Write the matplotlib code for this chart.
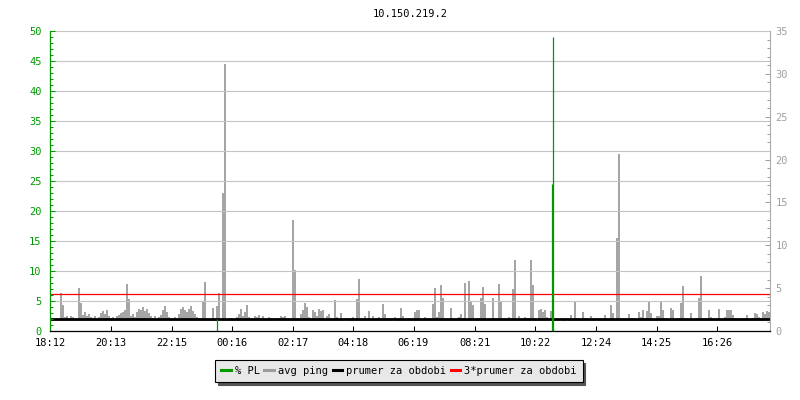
import numpy as np
import matplotlib
matplotlib.use("Agg")
import matplotlib.pyplot as plt
from matplotlib.lines import Line2D
from matplotlib.ticker import MultipleLocator

plt.rcParams['font.family'] = ['DejaVu Sans Mono']

title = "10.150.219.2"
start = "18:12"
step_min = 4  # one ping sample every 4 minutes

# avg ping [ms], 360 samples from 18:12
avg_ping = [
    1.3, 1.4, 1.2, 1.5, 1.3, 4.4, 3.0, 1.6, 1.7, 1.5, 1.8, 1.6, 1.4, 1.3, 5.0, 3.3, 1.9, 2.2, 1.7, 2.0,
    1.6, 1.5, 1.7, 1.4, 1.6, 2.1, 2.3, 2.0, 2.4, 1.8, 1.5, 1.6, 1.4, 1.7, 1.9, 2.1, 2.2, 2.4, 5.5, 3.7,
    1.8, 2.0, 1.6, 2.2, 2.6, 2.4, 2.8, 2.3, 2.6, 2.1, 1.7, 1.5, 1.8, 1.4, 1.6, 1.9, 2.4, 2.9, 2.2, 1.6,
    1.5, 1.4, 1.6, 1.3, 2.0, 2.6, 2.8, 2.4, 2.2, 2.6, 2.9, 2.3, 2.0, 1.6, 1.5, 1.4, 3.5, 5.7, 1.4, 1.3,
    1.3, 2.7, 1.5, 2.9, 4.4, 1.2, 16.1, 31.1, 1.4, 1.3, 1.5, 1.4, 1.3, 1.6, 2.0, 2.6, 1.8, 2.2, 3.0, 1.6,
    1.4, 1.3, 1.8, 1.6, 1.9, 1.5, 1.7, 1.4, 1.3, 1.6, 1.5, 1.3, 1.4, 1.2, 1.5, 1.7, 1.6, 1.8, 1.4, 1.3,
    1.3, 13.0, 7.1, 1.5, 1.4, 2.0, 2.4, 3.3, 2.8, 1.6, 1.4, 2.5, 2.2, 1.7, 2.6, 2.3, 2.4, 1.5, 1.8, 2.0,
    1.5, 1.4, 3.6, 1.6, 1.3, 2.1, 1.4, 1.2, 1.5, 1.3, 1.4, 1.6, 1.3, 3.7, 6.1, 1.5, 1.3, 1.8, 1.4, 2.3,
    1.4, 1.7, 1.3, 1.5, 1.6, 1.4, 3.2, 2.0, 1.3, 1.5, 1.4, 1.2, 1.6, 1.3, 1.5, 2.7, 1.8, 1.4, 1.3, 1.5,
    1.3, 1.5, 2.2, 2.5, 2.4, 1.4, 1.3, 1.6, 1.5, 1.4, 1.3, 3.2, 5.0, 1.6, 2.2, 5.4, 3.9, 1.5, 1.3, 1.4,
    2.7, 1.5, 1.4, 1.3, 1.6, 2.0, 1.5, 5.6, 1.4, 5.8, 3.4, 3.0, 1.4, 1.3, 1.5, 3.9, 5.1, 3.1, 1.4, 1.3,
    1.4, 3.9, 1.5, 1.3, 5.5, 3.4, 1.4, 1.5, 1.3, 1.6, 1.4, 4.9, 8.3, 1.5, 1.8, 1.3, 1.4, 1.6, 1.3, 1.5,
    8.3, 5.4, 1.5, 1.4, 2.4, 2.6, 2.2, 2.5, 1.6, 1.3, 2.3, 2.5, 1.3, 1.2, 1.3, 1.2, 1.4, 1.3, 1.2, 1.3,
    1.9, 1.4, 3.4, 1.5, 1.3, 1.4, 2.2, 1.5, 1.3, 1.2, 1.7, 1.3, 1.4, 1.2, 1.3, 1.5, 1.3, 1.9, 1.4, 1.3,
    3.0, 2.1, 1.4, 10.9, 20.7, 1.5, 1.3, 1.4, 1.3, 2.0, 1.4, 1.5, 1.3, 1.4, 2.2, 1.6, 2.5, 1.5, 2.3, 3.5,
    2.1, 1.4, 1.3, 1.8, 1.7, 3.5, 2.4, 1.5, 1.3, 1.4, 2.7, 2.5, 1.4, 1.3, 1.5, 3.3, 5.2, 1.5, 1.3, 1.4,
    2.1, 1.4, 1.3, 1.5, 3.9, 6.4, 1.4, 1.3, 1.5, 2.5, 1.6, 1.4, 1.3, 1.5, 2.6, 1.4, 1.3, 1.6, 2.5, 2.4,
    2.5, 1.9, 1.5, 1.4, 1.3, 1.4, 1.3, 1.5, 1.9, 1.3, 1.4, 1.5, 2.1, 2.0, 1.6, 1.5, 2.2, 2.0, 2.3, 2.2,
]
ping_floor = 1.15  # lowest ping seen in the period [ms]

# packet loss [%]
pl_times = ["23:46", "10:56", "10:58"]
pl_values = [2, 24.5, 49]

prumer = 1.43  # prumer za obdobi [ms]

tick_labels = ["18:12", "20:13", "22:15", "00:16", "02:17", "04:18",
               "06:19", "08:21", "10:22", "12:24", "14:25", "16:26"]


def minutes_from_start(t):
    h, m = map(int, t.split(":"))
    sh, sm = map(int, start.split(":"))
    return ((h * 60 + m) - (sh * 60 + sm)) % 1440


green = "#009a00"
gray = "#9c9c9c"

fig = plt.figure(figsize=(8, 4), dpi=100)
ax = fig.add_axes([50 / 800, 1 - 331 / 400, 720 / 800, 300 / 400])
ax2 = ax.twinx()
ax.set_zorder(2)
ax.patch.set_visible(False)
ax2.set_zorder(1)

t = np.arange(len(avg_ping)) * step_min + step_min / 2
ax2.vlines(t, ping_floor, avg_ping, color=gray, lw=1.3)
ax2.axhline(prumer, color="black", lw=2.0)
ax2.axhline(3 * prumer, color="red", lw=0.9)

pl_t = [minutes_from_start(x) for x in pl_times]
ax.vlines(pl_t, 0, pl_values, color=green, lw=0.9)

ax.set_xlim(0, 1440)
ax.set_ylim(0, 50)
ax2.set_ylim(0, 35)

ax.set_xticks([minutes_from_start(x) for x in tick_labels])
ax.set_xticklabels(tick_labels)
ax.tick_params(axis="x", direction="in", length=3.6, width=0.75,
               color="black", labelsize=7.5, pad=5)

ax.yaxis.set_major_locator(MultipleLocator(5))
ax.yaxis.set_minor_locator(MultipleLocator(1))
ax.tick_params(axis="y", which="both", direction="in", color=green,
               labelcolor=green, width=0.75, labelsize=7.5, pad=6)
ax.tick_params(axis="y", which="major", length=3.6)
ax.tick_params(axis="y", which="minor", length=2.4)

ax2.yaxis.set_major_locator(MultipleLocator(5))
ax2.yaxis.set_minor_locator(MultipleLocator(1))
ax2.tick_params(axis="y", which="both", direction="in", color=gray,
                labelcolor="#a0a0a0", width=0.75, labelsize=7.5, pad=4)
ax2.tick_params(axis="y", which="major", length=3.6)
ax2.tick_params(axis="y", which="minor", length=2.4)

ax.yaxis.grid(True, color="#c4c4c4", lw=0.8)

for s in ["top", "right"]:
    ax.spines[s].set_visible(False)
ax.spines["left"].set_color(green)
ax.spines["left"].set_linewidth(0.9)
ax.spines["bottom"].set_color("black")
ax.spines["bottom"].set_linewidth(0.9)
for s in ["top", "left", "bottom"]:
    ax2.spines[s].set_visible(False)
ax2.spines["right"].set_color("#aaaaaa")
ax2.spines["right"].set_linewidth(0.8)

fig.text(410 / 800, 1 - 14 / 400, title, ha="center", va="center", fontsize=7.5)

handles = [
    Line2D([], [], color=green, lw=2.2),
    Line2D([], [], color=gray, lw=2.2),
    Line2D([], [], color="black", lw=2.2),
    Line2D([], [], color="red", lw=2.2),
]
labels = ["% PL", "avg ping", "prumer za obdobi", "3*prumer za obdobi"]
leg = fig.legend(handles, labels, loc="center", bbox_to_anchor=(399 / 800, 1 - 371 / 400),
                 ncol=4, fontsize=7.5, handlelength=0.9, handletextpad=0.4,
                 columnspacing=0.45, borderpad=0.55, borderaxespad=0, fancybox=False,
                 facecolor="#e8e8e8", edgecolor="black", framealpha=1,
                 shadow={"color": "#555555", "alpha": 1})
leg.get_frame().set_linewidth(0.8)

fig.savefig("out.png", dpi=100)
